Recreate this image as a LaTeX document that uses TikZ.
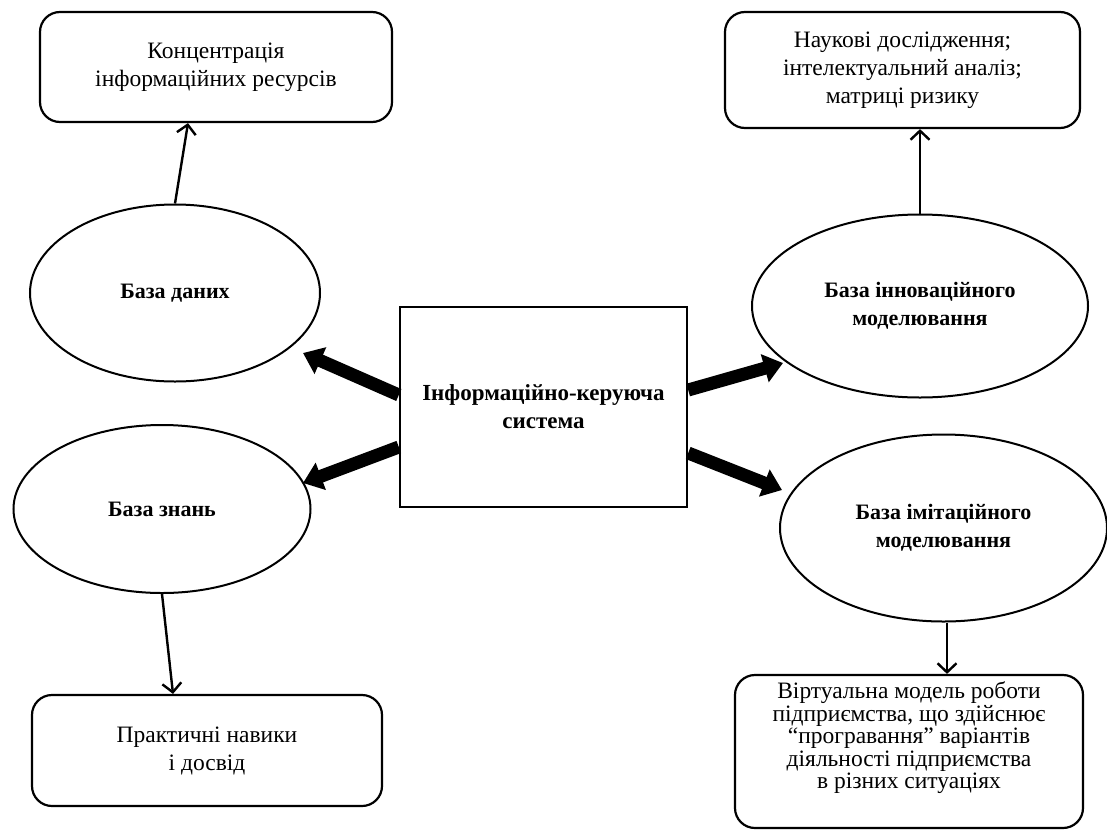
\documentclass[tikz,border=0pt]{standalone}
\usepackage{fontspec}
\setmainfont{Liberation Serif}
\usetikzlibrary{shapes.geometric,arrows.meta}
\tikzset{%
    resbox/.style={%
        draw, line width=2.2pt, rounded corners=20pt, align=center,
        inner sep=0pt, font=\fontsize{23.5}{28}\selectfont},
    base/.style={%
        draw, ellipse, line width=2pt, align=center, inner sep=0pt,
        font=\bfseries\fontsize{22}{28}\selectfont},
    ics/.style={%
        draw, line width=2.4pt, align=center, inner sep=0pt,
        font=\bfseries\fontsize{23}{28}\selectfont},
    thinarrow/.style={%
        line width=2.4pt, -{Straight Barb[length=9pt,width=19pt]}},
    bigarrow/.style={%
        line width=13pt, -{Triangle[length=19pt,width=28pt]}}
}

\begin{document}
\begin{tikzpicture}[x=1pt,y=-1pt]
    \useasboundingbox (0,0) rectangle (1107,830);
    % result boxes
    \node[resbox, minimum width=352pt, minimum height=110pt] (conc) at (216,67)
        {Концентрація\\інформаційних ресурсів};
    \node[resbox, minimum width=355pt, minimum height=116pt] (sci) at (902.5,70)
        {Наукові дослідження;\\інтелектуальний аналіз;\\матриці ризику};
    \node[resbox, minimum width=350pt, minimum height=111pt] (prac) at (207,750.5)
        {Практичні навики\\і досвід};
    \node[resbox, minimum width=348pt, minimum height=153pt] (virt) at (909,751.5)
        {\raisebox{13pt}[\height][\depth]{\fontsize{23.5}{22.5}\selectfont
        \begin{tabular}{@{}c@{}}Віртуальна модель роботи\\підприємства, що здійснює\\
        “програвання” варіантів\\діяльності підприємства\\в різних ситуаціях\end{tabular}}};
    % bases
    \node[base, minimum width=290pt, minimum height=177pt] (db) at (175,293) {База даних};
    \node[base, minimum width=297pt, minimum height=168pt] (kb) at (162,509) {База знань};
    \node[base, minimum width=336pt, minimum height=183pt] (ib) at (920,306)
        {База інноваційного\\моделювання};
    \node[base, minimum width=327pt, minimum height=187pt] (sb) at (943.5,528)
        {База імітаційного\\моделювання};
    % system
    \node[ics, minimum width=287pt, minimum height=200pt] (sys) at (543.5,407)
        {Інформаційно-керуюча\\система};
    % thin arrows
    \draw[thinarrow] (db.north) -- ([xshift=-28pt]conc.south);
    \draw[thinarrow] (ib.north) -- (ib.north |- sci.south);
    \draw[thinarrow] (kb.south) -- ([xshift=-34pt]prac.north);
    \draw[thinarrow] ([xshift=3.5pt]sb.south) -- ([xshift=3.5pt]sb.south |- virt.north);
    % thick arrows
    \coordinate (tipdb) at (303,353);
    \coordinate (tipkb) at (303,483);
    \coordinate (tipib) at (783,363);
    \coordinate (tipsb) at (782,490);
    \draw[bigarrow] ([yshift=12pt]sys.west) -- (tipdb);
    \draw[bigarrow] ([yshift=-40pt]sys.west) -- (tipkb);
    \draw[bigarrow] ([yshift=17pt]sys.east) -- (tipib);
    \draw[bigarrow] ([yshift=-46pt]sys.east) -- (tipsb);
\end{tikzpicture}
\end{document}
